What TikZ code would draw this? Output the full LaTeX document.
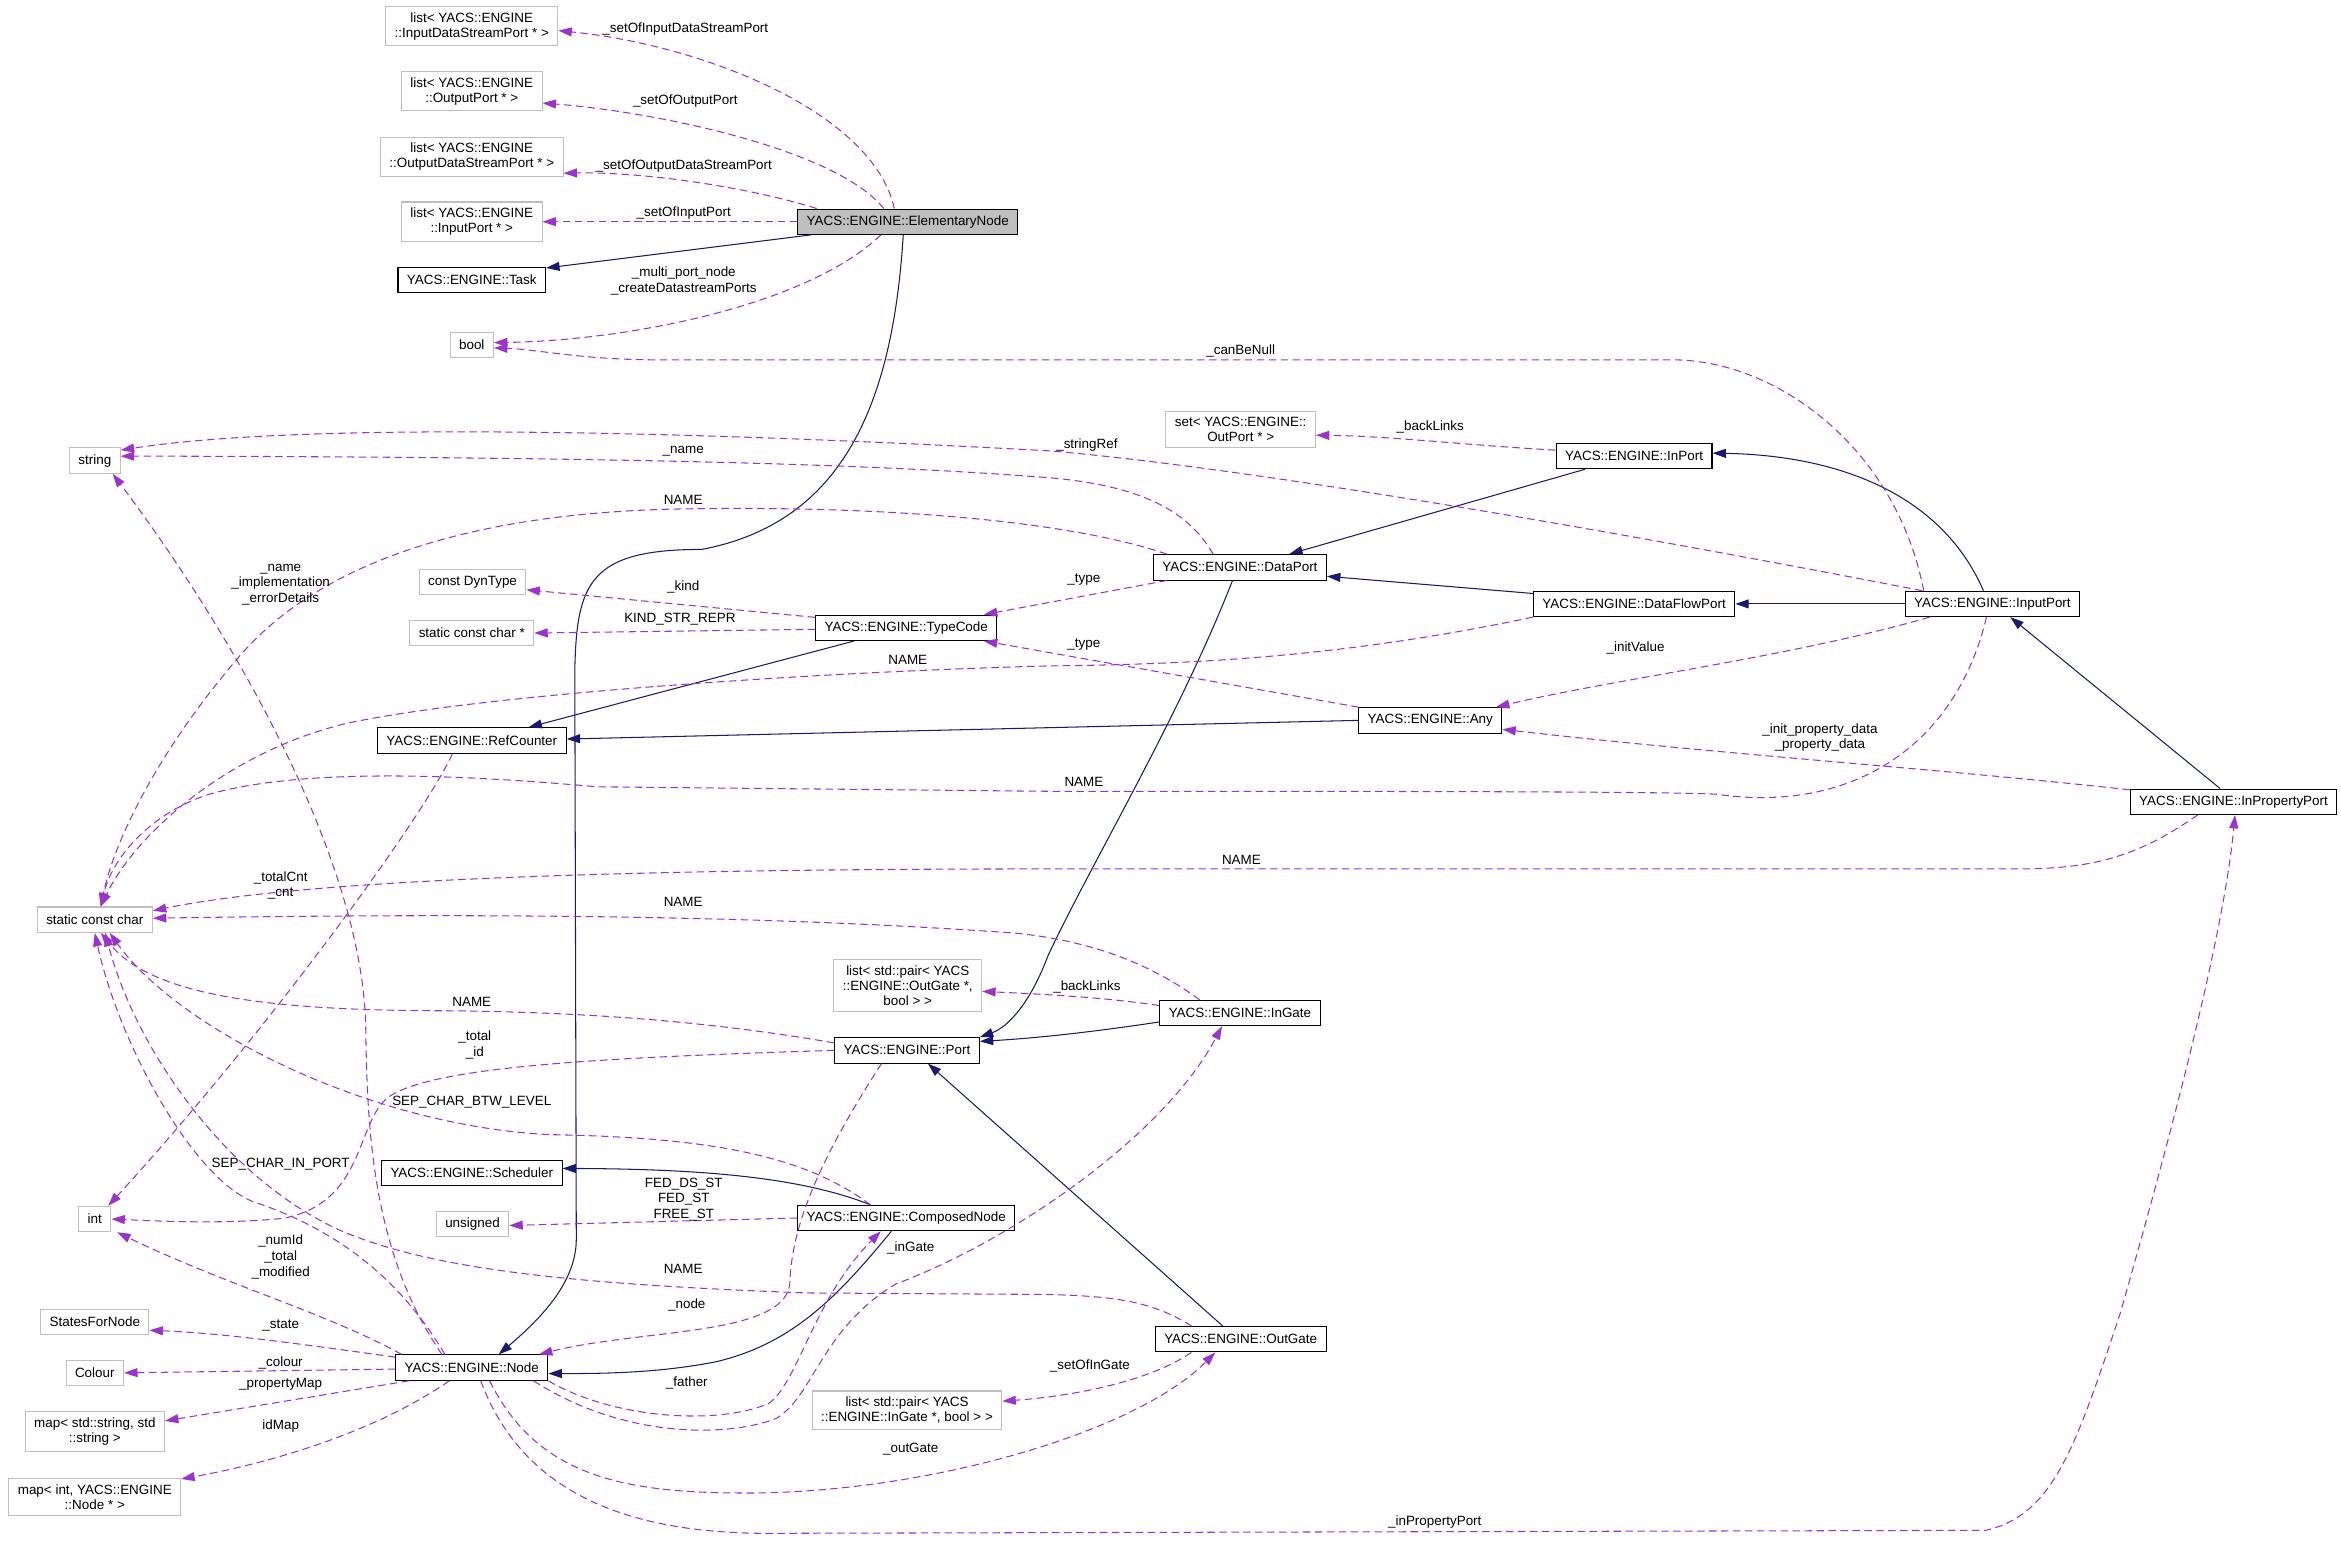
\documentclass[tikz,border=0pt]{standalone}
\usepackage{fontspec}
\setmainfont{Liberation Sans}
\usetikzlibrary{arrows.meta}
\definecolor{inhblue}{HTML}{191970}
\definecolor{usepurple}{HTML}{9A32CD}
\definecolor{boxgray}{HTML}{BFBFBF}
\tikzset{
  cls/.style={draw=black,fill=white,line width=0.7pt,inner xsep=6pt,inner ysep=4pt,minimum height=17pt,align=center,font=\fontsize{9}{10}\selectfont},
  ext/.style={cls,draw=boxgray},
  inherit/.style={-{Triangle[length=9pt,width=6pt]},inhblue,line width=0.7pt},
  member/.style={-{Triangle[length=9pt,width=6pt]},usepurple,line width=0.7pt,dash pattern=on 5pt off 3pt},
  elab/.style={inner sep=1pt,align=center,font=\fontsize{9}{10.5}\selectfont},
}
\begin{document}
\begin{tikzpicture}[x=1pt,y=-1pt]
\useasboundingbox (0,0) rectangle (1568,1034);
% classes and types
\node[cls,fill=boxgray] (elem) at (608,148.5) {YACS::ENGINE::ElementaryNode};
\node[ext] (lstIDS) at (316,17.5) {list< YACS::ENGINE\\::InputDataStreamPort * >};
\node[ext] (lstOP) at (316,61) {list< YACS::ENGINE\\::OutputPort * >};
\node[ext] (lstODS) at (316,105) {list< YACS::ENGINE\\::OutputDataStreamPort * >};
\node[ext] (lstIP) at (316,148.5) {list< YACS::ENGINE\\::InputPort * >};
\node[cls] (task) at (316,187.5) {YACS::ENGINE::Task};
\node[ext] (tbool) at (316,231) {bool};
\node[ext] (str) at (63.5,308.5) {string};
\node[ext] (setOP) at (831,287.5) {set< YACS::ENGINE::\\OutPort * >};
\node[cls] (inport) at (1094.5,305.5) {YACS::ENGINE::InPort};
\node[cls] (dport) at (830.5,380) {YACS::ENGINE::DataPort};
\node[cls] (dfport) at (1094.5,404.5) {YACS::ENGINE::DataFlowPort};
\node[cls] (inputport) at (1334.5,404.5) {YACS::ENGINE::InputPort};
\node[ext] (dyntype) at (316.5,390) {const DynType};
\node[ext] (scstar) at (316,424) {static const char *};
\node[cls] (tcode) at (607,420.5) {YACS::ENGINE::TypeCode};
\node[cls] (refcnt) at (316,496) {YACS::ENGINE::RefCounter};
\node[cls] (any) at (958,482.5) {YACS::ENGINE::Any};
\node[cls] (inprop) at (1496,537) {YACS::ENGINE::InPropertyPort};
\node[ext] (scc) at (63.5,616) {static const char};
\node[ext] (lstOG) at (608,660) {list< std::pair< YACS\\::ENGINE::OutGate *,\\bool > >};
\node[cls] (port) at (607.5,703.5) {YACS::ENGINE::Port};
\node[cls] (ingate) at (830.5,678.5) {YACS::ENGINE::InGate};
\node[cls] (sched) at (316,785.6) {YACS::ENGINE::Scheduler};
\node[ext] (tint) at (63.5,816.5) {int};
\node[ext] (unsig) at (316.5,819.8) {unsigned};
\node[cls] (comp) at (607,815.8) {YACS::ENGINE::ComposedNode};
\node[ext] (sfn) at (63.5,885.5) {StatesForNode};
\node[ext] (colour) at (63.5,919.5) {Colour};
\node[cls] (enode) at (316,916) {YACS::ENGINE::Node};
\node[ext] (mapSS) at (63.5,958.7) {map< std::string, std\\::string >};
\node[ext] (mapIN) at (63.5,1002.6) {map< int, YACS::ENGINE\\::Node * >};
\node[ext] (lstIG) at (607.5,944.5) {list< std::pair< YACS\\::ENGINE::InGate *, bool > >};
\node[cls] (outgate) at (831,897) {YACS::ENGINE::OutGate};
% inheritance
\draw[inherit] ([xshift=-65pt]elem.south) -- ([yshift=8pt]task.east);
\draw[inherit] ([xshift=-3pt]elem.south) .. controls (598,270) and (565,350) .. (470,368)
  .. controls (395,368) and (386,390) .. (385,450) -- (386,830) .. controls (386,860) and (360,885) .. ([xshift=18pt]enode.north);
\draw[inherit] ([xshift=-33pt]inport.south) -- ([xshift=33pt]dport.north);
\draw[inherit] ([yshift=7pt]dfport.west) -- ([yshift=-6pt]dport.east);
\draw[inherit] (inputport.west) -- (dfport.east);
\draw[inherit] ([xshift=-6pt]inputport.north) .. controls (1300,330) and (1230,305) .. ([yshift=2pt]inport.east);
\draw[inherit] ([xshift=-9pt]inprop.north) -- ([xshift=12pt]inputport.south);
\draw[inherit] ([xshift=-35pt]tcode.south) -- ([xshift=38pt]refcnt.north);
\draw[inherit] (any.west) -- ([yshift=1pt]refcnt.east);
\draw[inherit] ([xshift=-5pt]dport.south) .. controls (790,480) and (730,580) .. (702,640) .. controls (690,672) and (675,688) .. (port.north east);
\draw[inherit] ([yshift=-6pt]ingate.west) .. controls (740,690) and (700,695) .. ([yshift=6pt]port.east);
\draw[inherit] ([xshift=-12pt]outgate.north) -- ([xshift=14pt]port.south);
\draw[inherit] ([xshift=-24pt]comp.north) .. controls (540,790) and (480,783) .. ([yshift=3pt]sched.east);
\draw[inherit] ([xshift=-10pt]comp.south) .. controls (560,870) and (530,900) .. (480,912) .. controls (440,920) and (400,920) .. ([yshift=-4pt]enode.east);
% members of ElementaryNode
\draw[member] ([xshift=-9pt]elem.north) .. controls (585,75) and (470,30) .. ([yshift=-3pt]lstIDS.east);
\draw[member] ([xshift=-16pt]elem.north) .. controls (560,100) and (440,75) .. ([yshift=-8pt]lstOP.east);
\draw[member] ([xshift=-61pt]elem.north) .. controls (500,125) and (430,115) .. ([yshift=-11pt]lstODS.east);
\draw[member] (elem.west) -- (lstIP.east);
\draw[member] ([xshift=-18pt]elem.south) .. controls (540,205) and (420,228) .. ([yshift=1.5pt]tbool.east);
\node[elab] (lbIDS) at (459,19.5) {\_setOfInputDataStreamPort};
\node[elab] (lbOP) at (459,68) {\_setOfOutputPort};
\node[elab] (lbODS) at (458,111) {\_setOfOutputDataStreamPort};
\node[elab] (lbIP) at (458,142.5) {\_setOfInputPort};
\node[elab] (lbMulti) at (458,188) {\_multi\_port\_node\\\_createDatastreamPorts};
% ports
\draw[member] ([xshift=-46pt]inputport.north) .. controls (1270,300) and (1190,241) .. (1120,241) -- (440,241)
  .. controls (390,241) and (360,234) .. ([yshift=-2pt]tbool.east);
\node[elab] (lbNull) at (831,235) {\_canBeNull};
\draw[member] ([yshift=4pt]inport.west) .. controls (980,298) and (930,292) .. ([yshift=-4pt]setOP.east);
\node[elab] (lbBack) at (958,286) {\_backLinks};
\draw[member] ([xshift=-47pt]inputport.north) .. controls (1000,340) and (800,310) .. (703,302)
  .. controls (450,288) and (200,283) .. ([yshift=7pt]str.east);
\node[elab] (lbRef) at (728,298) {\_stringRef};
\draw[member] ([xshift=-18pt]dport.north) .. controls (795,340) and (760,325) .. (703,320)
  .. controls (600,312) and (450,306) .. ([yshift=3pt]str.east);
\node[elab] (lbName) at (457.6,302) {\_name};
\draw[member] ([xshift=-49pt]dport.north) .. controls (720,350) and (600,338) .. (450,341)
  .. controls (330,344) and (220,370) .. (160,440) .. controls (100,510) and (75,570) .. ([xshift=4pt]scc.north);
\node[elab] (lbDpName) at (457.6,335) {NAME};
\draw[member] ([xshift=-49pt]dport.south) -- ([xshift=52pt]tcode.north);
\node[elab] (lbType) at (726,388) {\_type};
\draw[member] ([xshift=-48pt]any.north) -- ([xshift=52pt]tcode.south);
\node[elab] (lbType2) at (726,432) {\_type};
\draw[member] ([yshift=7pt]tcode.west) -- ([yshift=-5pt]dyntype.east);
\node[elab] (lbKind) at (457.6,393) {\_kind};
\draw[member] ([yshift=-1pt]tcode.west) -- (scstar.east);
\node[elab] (lbKindStr) at (455.4,415) {KIND\_STR\_REPR};
\draw[member] (dfport.south west) .. controls (900,440) and (800,445) .. (703,446)
  .. controls (550,450) and (320,465) .. (230,485) .. controls (150,505) and (90,560) .. ([xshift=4pt]scc.north);
\node[elab] (lbDfName) at (608,442) {NAME};
\draw[member] ([xshift=-42pt]inputport.south) .. controls (1200,440) and (1080,455) .. ([xshift=44pt]any.north);
\node[elab] (lbInit) at (1095.5,434) {\_initValue};
\draw[member] ([yshift=8pt]inprop.west) .. controls (1300,515) and (1150,505) .. ([yshift=-6pt]any.east);
\node[elab] (lbProp) at (1219,494) {\_init\_property\_data\\\_property\_data};
\draw[member] ([xshift=-4pt]inputport.south) .. controls (1310,500) and (1240,545) .. (1150,532)
  .. controls (1120,530) and (900,530) .. (703,530) -- (400,527)
  .. controls (300,518) and (200,515) .. (140,532) .. controls (100,545) and (75,575) .. ([xshift=4pt]scc.north);
\node[elab] (lbIpName) at (726,524) {NAME};
\draw[member] ([xshift=-24pt]inprop.south) .. controls (1430,575) and (1400,582) .. (1350,582) -- (703,582)
  .. controls (400,582) and (200,590) .. ([yshift=6pt]scc.east);
\node[elab] (lbPpName) at (831.5,576) {NAME};
\draw[member] ([xshift=-13pt]refcnt.south) .. controls (285,545) and (180,690) .. ([xshift=9pt]tint.north);
\node[elab] (lbCnt) at (188,593) {\_totalCnt\\\_cnt};
% gates and port
\draw[member] ([xshift=-27pt]ingate.north) .. controls (770,645) and (730,630) .. (680,625)
  .. controls (500,612) and (300,612) .. ([yshift=1pt]scc.east);
\node[elab] (lbIgName) at (457.6,604) {NAME};
\draw[member] ([yshift=5pt]ingate.west) .. controls (740,668) and (700,666) .. ([yshift=-4pt]lstOG.east);
\node[elab] (lbBack2) at (728,661) {\_backLinks};
\draw[member] ([yshift=5pt]port.west) .. controls (480,685) and (400,678) .. (300,677)
  .. controls (170,677) and (100,665) .. ([xshift=4pt]scc.south);
\node[elab] (lbPortName) at (316,671) {NAME};
\draw[member] (port.west) .. controls (420,708) and (290,713) .. (260,735)
  .. controls (238,752) and (245,805) .. (190,816) .. controls (150,820) and (110,818) .. (tint.east);
\node[elab] (lbTotal) at (318,700) {\_total\\\_id};
\draw[member] ([xshift=-24pt]comp.north) .. controls (540,775) and (480,762) .. (370,760)
  .. controls (250,755) and (120,690) .. ([xshift=10pt]scc.south);
\node[elab] (lbBtw) at (316,738) {SEP\_CHAR\_BTW\_LEVEL};
\draw[member] (comp.west) -- ([yshift=-1pt]unsig.east);
\node[elab] (lbFed) at (458,803.5) {FED\_DS\_ST\\FED\_ST\\FREE\_ST};
\draw[member] ([xshift=-33pt]outgate.north) .. controls (770,870) and (740,868) .. (700,867) -- (540,866)
  .. controls (380,860) and (290,850) .. (230,825) .. controls (150,790) and (90,700) .. ([xshift=7pt]scc.south);
\node[elab] (lbOgName) at (457.6,850) {NAME};
\draw[member] ([xshift=-33pt]outgate.south) .. controls (770,925) and (720,935) .. ([yshift=6pt]lstIG.east);
\node[elab] (lbSetIG) at (730,914.6) {\_setOfInGate};
\draw[member] ([xshift=-17pt]port.south) .. controls (540,790) and (530,830) .. (529,860)
  .. controls (525,895) and (430,890) .. ([xshift=45pt]enode.north);
\node[elab] (lbNode) at (460,874) {\_node};
% members of Node
\draw[member] ([xshift=-20pt]enode.north) .. controls (250,840) and (246,760) .. (245,690)
  .. controls (244,580) and (160,430) .. ([xshift=12pt]str.south);
\node[elab] (lbNameImpl) at (188,391.5) {\_name\\\_implementation\\\_errorDetails};
\draw[member] ([xshift=-18pt]enode.north) .. controls (270,860) and (230,825) .. (170,805)
  .. controls (130,790) and (80,700) .. (scc.south);
\node[elab] (lbInPort) at (188,780) {SEP\_CHAR\_IN\_PORT};
\draw[member] ([xshift=-47pt]enode.north) .. controls (220,880) and (150,860) .. ([xshift=15pt]tint.south);
\node[elab] (lbNum) at (188,842) {\_numId\\\_total\\\_modified};
\draw[member] ([yshift=7pt]enode.west) .. controls (200,900) and (150,893) .. ([yshift=-5.5pt]sfn.east);
\node[elab] (lbState) at (188,888) {\_state};
\draw[member] ([yshift=-1pt]enode.west) -- (colour.east);
\node[elab] (lbColour) at (188,913) {\_colour};
\draw[member] ([xshift=-42pt]enode.south) -- ([yshift=7pt]mapSS.east);
\node[elab] (lbPropMap) at (188,927.5) {\_propertyMap};
\draw[member] ([xshift=-15pt]enode.south) .. controls (250,960) and (180,980) .. ([yshift=12pt]mapIN.east);
\node[elab] (lbIdMap) at (188,955) {idMap};
\draw[member] (enode.south east) .. controls (410,950) and (480,955) .. (515,940)
  .. controls (535,925) and (545,870) .. ([xshift=-17pt]comp.south);
\node[elab] (lbFather) at (460,926) {\_father};
\draw[member] ([xshift=-10pt]enode.south east) .. controls (420,965) and (490,962) .. (520,950)
  .. controls (545,935) and (550,890) .. (600,860) .. controls (680,830) and (780,760) .. ([xshift=-12pt]ingate.south);
\node[elab] (lbInGate) at (610,836) {\_inGate};
\draw[member] ([xshift=12pt]enode.south) .. controls (360,990) and (420,1000) .. (500,1000)
  .. controls (620,1000) and (760,960) .. ([xshift=-17pt]outgate.south);
\node[elab] (lbOutGate) at (610,970.5) {\_outGate};
\draw[member] ([xshift=6pt]enode.south) .. controls (350,1000) and (420,1028) .. (520,1027) -- (1330,1025)
  .. controls (1375,1015) and (1390,970) .. (1420,880) .. controls (1460,740) and (1490,620) .. ([xshift=1pt]inprop.south);
\node[elab] (lbInProp) at (961,1019.4) {\_inPropertyPort};
\end{tikzpicture}
\end{document}
